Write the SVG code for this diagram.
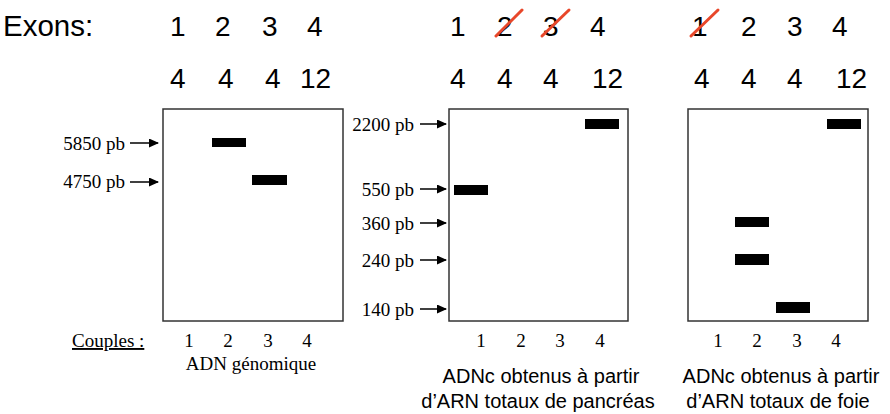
<svg xmlns="http://www.w3.org/2000/svg" width="890" height="414" viewBox="0 0 890 414">
<style>
.sans{font-family:"Liberation Sans",Arial,sans-serif;fill:#000}
.big{font-size:28px}
.cap{font-size:20px;text-anchor:middle}
.serif{font-family:"Liberation Serif","Times New Roman",serif;fill:#000;font-size:19px}
.lane{text-anchor:middle}
.lbl{text-anchor:end}
.gel{fill:#fff;stroke:#333;stroke-width:1.5}
.band{fill:#000}
.arr{stroke:#000;stroke-width:1.5;fill:none;marker-end:url(#ah)}
.cross{stroke:#E8472A;stroke-width:3;stroke-linecap:round}
</style>
<defs>
<marker id="ah" markerWidth="10" markerHeight="9" refX="9" refY="4.5" orient="auto" markerUnits="userSpaceOnUse">
<path d="M0,0 L10,4.5 L0,9 Z" fill="#000"/>
</marker>
</defs>
<rect width="890" height="414" fill="#fff"/>
<g id="header">
<text class="sans" x="3" y="36" font-size="29.5">Exons:</text>
<g id="exons1">
<text class="sans big" x="170" y="36">1</text>
<text class="sans big" x="215" y="36">2</text>
<text class="sans big" x="262" y="36">3</text>
<text class="sans big" x="307" y="36">4</text>
<text class="sans big" x="170" y="88">4</text>
<text class="sans big" x="218" y="88">4</text>
<text class="sans big" x="265" y="88">4</text>
<text class="sans big" x="300" y="88">12</text>
</g>
<g id="exons2">
<text class="sans big" x="450" y="36">1</text>
<text class="sans big" x="497" y="36">2</text>
<text class="sans big" x="543" y="36">3</text>
<text class="sans big" x="590" y="36">4</text>
<text class="sans big" x="450" y="88">4</text>
<text class="sans big" x="497" y="88">4</text>
<text class="sans big" x="543" y="88">4</text>
<text class="sans big" x="592" y="88">12</text>
<line class="cross" x1="496" y1="36" x2="522" y2="10"/>
<line class="cross" x1="542" y1="36" x2="569" y2="10"/>
</g>
<g id="exons3">
<text class="sans big" x="692" y="36">1</text>
<text class="sans big" x="741" y="36">2</text>
<text class="sans big" x="787" y="36">3</text>
<text class="sans big" x="832" y="36">4</text>
<text class="sans big" x="694" y="88">4</text>
<text class="sans big" x="741" y="88">4</text>
<text class="sans big" x="787" y="88">4</text>
<text class="sans big" x="836" y="88">12</text>
<line class="cross" x1="691" y1="36" x2="718" y2="10"/>
</g>
</g>
<g id="gel1">
<rect class="gel" x="163" y="109" width="180" height="212"/>
<rect class="band" x="212" y="138" width="34" height="9"/>
<rect class="band" x="252" y="175" width="35" height="10"/>
<text class="serif lbl" x="125" y="150">5850 pb</text>
<text class="serif lbl" x="125" y="188">4750 pb</text>
<text class="serif" x="72" y="347" text-decoration="underline">Couples :</text>
<text class="serif lane" x="189" y="347">1</text>
<text class="serif lane" x="228" y="347">2</text>
<text class="serif lane" x="268" y="347">3</text>
<text class="serif lane" x="307" y="347">4</text>
<text class="serif lane" x="251" y="370">ADN génomique</text>
</g>
<g id="gel2">
<rect class="gel" x="449" y="109" width="179" height="212"/>
<rect class="band" x="585" y="119" width="34" height="10"/>
<rect class="band" x="454" y="185" width="34" height="10"/>
<text class="serif lbl" x="414" y="131">2200 pb</text>
<text class="serif lbl" x="414" y="196">550 pb</text>
<text class="serif lbl" x="414" y="230">360 pb</text>
<text class="serif lbl" x="414" y="267">240 pb</text>
<text class="serif lbl" x="414" y="316">140 pb</text>
<text class="serif lane" x="481" y="347">1</text>
<text class="serif lane" x="521" y="347">2</text>
<text class="serif lane" x="560" y="347">3</text>
<text class="serif lane" x="600" y="347">4</text>
<text class="sans cap" x="541" y="383">ADNc obtenus à partir</text>
<text class="sans cap" x="538" y="408">d’ARN totaux de pancréas</text>
</g>
<g id="gel3">
<rect class="gel" x="688" y="109" width="180" height="212"/>
<rect class="band" x="827" y="119" width="34" height="10"/>
<rect class="band" x="735" y="217" width="34" height="10"/>
<rect class="band" x="735" y="254" width="34" height="11"/>
<rect class="band" x="776" y="302" width="34" height="11"/>
<text class="serif lane" x="718" y="347">1</text>
<text class="serif lane" x="757" y="347">2</text>
<text class="serif lane" x="797" y="347">3</text>
<text class="serif lane" x="836" y="347">4</text>
<text class="sans cap" x="781" y="383">ADNc obtenus à partir</text>
<text class="sans cap" x="778" y="408">d’ARN totaux de foie</text>
</g>
<g id="connectors">
<line class="arr" x1="130" y1="143" x2="158" y2="143"/>
<line class="arr" x1="130" y1="182" x2="158" y2="182"/>
<line class="arr" x1="420" y1="124" x2="446" y2="124"/>
<line class="arr" x1="420" y1="189" x2="446" y2="189"/>
<line class="arr" x1="420" y1="223" x2="446" y2="223"/>
<line class="arr" x1="420" y1="260" x2="446" y2="260"/>
<line class="arr" x1="420" y1="309" x2="446" y2="309"/>
</g>
</svg>
